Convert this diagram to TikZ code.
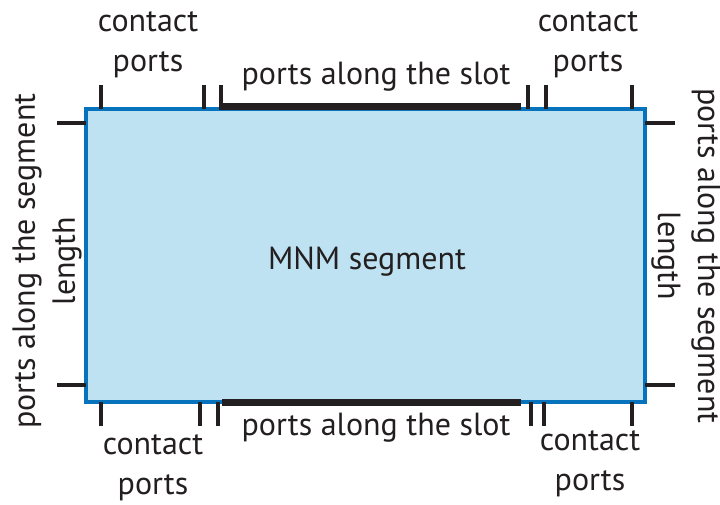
\documentclass[tikz,border=0pt]{standalone}
\usepackage{fontspec}
\setmainfont{PT Sans}
\definecolor{inkc}{HTML}{231F20}
\definecolor{edgeblue}{HTML}{0873BD}
\definecolor{fillblue}{HTML}{BEE2F1}
\begin{document}
\begin{tikzpicture}[x=1pt,y=-1pt,
  lbl/.style={text=inkc,font=\fontsize{32}{40}\selectfont,align=center,inner sep=0pt},
  tick/.style={draw=inkc,line width=3.2pt},
  slotbar/.style={draw=inkc,line width=7pt}]
\useasboundingbox (0,0) rectangle (720,505);
% segment body
\node[draw=edgeblue,fill=fillblue,line width=3.2pt,minimum width=559pt,minimum height=293pt,inner sep=0pt] (seg) at (365.5,255.5) {};
\node[lbl] (mnm) at (367,262) {MNM segment};
% slot bars
\coordinate (tbA) at (219.4,107); \coordinate (tbB) at (521,107);
\coordinate (bbA) at (222,402); \coordinate (bbB) at (521,402);
\draw[slotbar] (tbA) -- (tbB);
\draw[slotbar] (bbA) -- (bbB);
% top ticks
\foreach \x in {101,204,221,528,546,632} \draw[tick] (\x,85) -- (\x,109);
% bottom ticks
\foreach \x in {101,200,218,531,544,632} \draw[tick] (\x,402) -- (\x,426);
% side ticks
\foreach \y in {123,385} {
  \draw[tick] (57,\y) -- (86,\y);
  \draw[tick] (645,\y) -- (675,\y);
}
% labels
\node[lbl] (ctl) at (148,45) {contact\\ports};
\node[lbl] (ctr) at (588,45) {contact\\ports};
\node[lbl] (cbl) at (153,468) {contact\\ports};
\node[lbl] (cbr) at (590,464) {contact\\ports};
\node[lbl] (slt) at (376,77) {ports along the slot};
\node[lbl] (slb) at (376,428) {ports along the slot};
\node[lbl,rotate=90] (sgl) at (47,261) {ports along the segment\\length};
\node[lbl,rotate=-90] (sgr) at (686,256) {ports along the segment\\length};
\end{tikzpicture}
\end{document}
